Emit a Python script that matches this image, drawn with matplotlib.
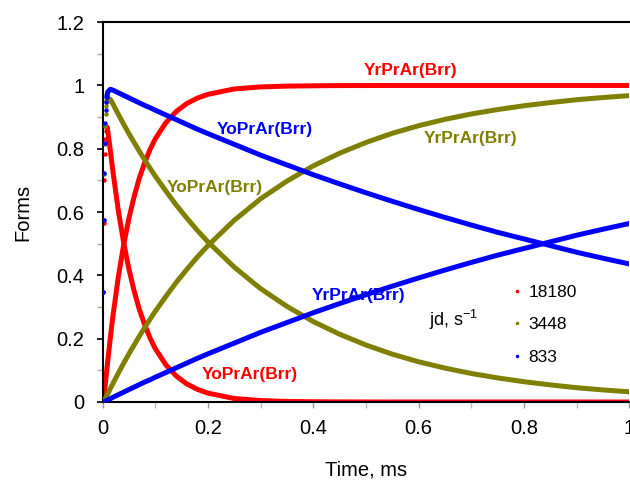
import matplotlib
matplotlib.use("Agg")
import matplotlib.pyplot as plt
from matplotlib.ticker import MultipleLocator

plt.rcParams["font.family"] = ["Liberation Sans", "DejaVu Sans"]
plt.rcParams["mathtext.fontset"] = "custom"
plt.rcParams["mathtext.rm"] = "Liberation Sans"
plt.rcParams["axes.unicode_minus"] = False

# time grid, ms
t_ms = [0, 0.001, 0.002, 0.003, 0.004, 0.005, 0.006, 0.007, 0.008, 0.009, 0.010,
        0.015, 0.02, 0.03, 0.04, 0.05, 0.06, 0.07, 0.08, 0.09, 0.10,
        0.12, 0.14, 0.16, 0.18, 0.20,
        0.25, 0.30, 0.35, 0.40, 0.45, 0.50, 0.55, 0.60, 0.65, 0.70, 0.75,
        0.80, 0.85, 0.90, 0.95, 1.00]

# jd = 18180 s-1
yo_red = [0, 0.346, 0.565, 0.701, 0.784, 0.832, 0.857, 0.868, 0.869, 0.865, 0.856,
          0.793, 0.726, 0.605, 0.505, 0.421, 0.351, 0.292, 0.244, 0.203, 0.169,
          0.118, 0.082, 0.057, 0.040, 0.028,
          0.011, 0.0045, 0.0017, 0.0007, 0.0003, 0.0001, 0, 0, 0, 0, 0,
          0, 0, 0, 0, 0]
yr_red = [0, 0.0035, 0.012, 0.024, 0.037, 0.052, 0.067, 0.083, 0.099, 0.114, 0.130,
          0.205, 0.274, 0.395, 0.495, 0.579, 0.649, 0.708, 0.756, 0.797, 0.831,
          0.882, 0.918, 0.943, 0.960, 0.972,
          0.989, 0.9955, 0.998, 0.999, 0.9997, 0.9999, 1, 1, 1, 1, 1,
          1, 1, 1, 1, 1]

# jd = 3448 s-1
yo_olive = [0, 0.349, 0.575, 0.720, 0.814, 0.873, 0.911, 0.934, 0.948, 0.956, 0.960,
            0.956, 0.941, 0.909, 0.878, 0.848, 0.820, 0.792, 0.765, 0.739, 0.714,
            0.667, 0.622, 0.581, 0.542, 0.506,
            0.426, 0.358, 0.302, 0.254, 0.214, 0.180, 0.151, 0.127, 0.107, 0.090, 0.076,
            0.064, 0.054, 0.045, 0.038, 0.032]
yr_olive = [0, 0.0005, 0.002, 0.0045, 0.007, 0.010, 0.013, 0.016, 0.020, 0.023, 0.026,
            0.043, 0.059, 0.091, 0.122, 0.152, 0.180, 0.208, 0.235, 0.261, 0.286,
            0.333, 0.378, 0.419, 0.458, 0.494,
            0.574, 0.642, 0.698, 0.746, 0.786, 0.820, 0.849, 0.873, 0.893, 0.910, 0.924,
            0.936, 0.946, 0.955, 0.962, 0.968]

# jd = 833 s-1
yo_blue = [0, 0.349, 0.576, 0.724, 0.819, 0.881, 0.921, 0.947, 0.963, 0.973, 0.980,
           0.988, 0.985, 0.977, 0.969, 0.961, 0.953, 0.945, 0.937, 0.930, 0.922,
           0.907, 0.892, 0.877, 0.862, 0.848,
           0.814, 0.780, 0.749, 0.718, 0.689, 0.661, 0.634, 0.608, 0.583, 0.559, 0.536,
           0.515, 0.494, 0.473, 0.454, 0.436]
yr_blue = [0, 0.0003, 0.0006, 0.001, 0.0018, 0.0025, 0.003, 0.004, 0.005, 0.006, 0.0064,
           0.0105, 0.015, 0.023, 0.031, 0.039, 0.047, 0.055, 0.063, 0.070, 0.078,
           0.093, 0.108, 0.123, 0.138, 0.152,
           0.186, 0.220, 0.251, 0.282, 0.311, 0.339, 0.366, 0.392, 0.417, 0.441, 0.464,
           0.485, 0.506, 0.527, 0.546, 0.564]

jd_labels = ["18180", "3448", "833"]
colors = ["#ff0000", "#808000", "#0000ff"]

N_DOTS = 10   # early points drawn as separate dots
LINE_FROM = 8

fig = plt.figure(figsize=(6.3, 4.82), dpi=100)
ax = fig.add_axes([0.1627, 0.166, 0.8365, 0.788])

series = [(yo_red, yr_red), (yo_olive, yr_olive), (yo_blue, yr_blue)]
order = [1, 0, 2]  # olive below, blue on top
handles = {}
for i in order:
    yo, yr = series[i]
    c = colors[i]
    ax.plot(t_ms, yr, color=c, lw=3.6, solid_capstyle="butt", zorder=2 + i)
    ax.plot(t_ms[LINE_FROM:], yo[LINE_FROM:], color=c, lw=3.6,
            solid_capstyle="round", zorder=2 + i)
    h, = ax.plot(t_ms[:N_DOTS], yo[:N_DOTS], ls="none", marker="o", ms=3.2,
                 mfc=c, mec=c, mew=0, zorder=2 + i, label=jd_labels[i])
    handles[i] = h

ax.set_xlim(0, 1)
ax.set_ylim(0, 1.2)
ax.xaxis.set_major_locator(MultipleLocator(0.2))
ax.xaxis.set_minor_locator(MultipleLocator(0.1))
ax.yaxis.set_major_locator(MultipleLocator(0.2))
ax.yaxis.set_minor_locator(MultipleLocator(0.1))
ax.xaxis.set_major_formatter(plt.FuncFormatter(lambda v, _: f"{v:g}"))
ax.yaxis.set_major_formatter(plt.FuncFormatter(lambda v, _: f"{v:g}"))

ax.tick_params(axis="both", which="both", direction="out", length=4, labelsize=14.5)
ax.tick_params(axis="y", which="major", color="black", width=1.2, pad=9)
ax.tick_params(axis="y", which="minor", color="#aaaaaa", width=1.0)
ax.tick_params(axis="x", which="major", color="#999999", width=1.0, pad=8)
ax.tick_params(axis="x", which="minor", color="#bbbbbb", width=1.0)

for s in ("top", "left", "bottom"):
    ax.spines[s].set_linewidth(1.5)
    ax.spines[s].set_color("black")
ax.spines["right"].set_visible(False)

ax.set_ylabel("Forms", fontsize=14.5)
ax.set_xlabel("Time, ms", fontsize=14.5)
ax.yaxis.set_label_coords(-0.134, 0.5)
ax.xaxis.set_label_coords(0.5, -0.155)

lab = dict(fontsize=12.5, fontweight="bold", ha="center", va="center", zorder=10)
ax.text(0.584, 1.048, "YrPrAr(Brr)", color=colors[0], **lab)
ax.text(0.279, 0.088, "YoPrAr(Brr)", color=colors[0], **lab)
ax.text(0.698, 0.834, "YrPrAr(Brr)", color=colors[1], **lab)
ax.text(0.2125, 0.679, "YoPrAr(Brr)", color=colors[1], **lab)
ax.text(0.308, 0.862, "YoPrAr(Brr)", color=colors[2], **lab)
ax.text(0.485, 0.335, "YrPrAr(Brr)", color=colors[2], **lab)

ax.text(0.62, 0.259, "jd, s$^{-1}$", fontsize=13, ha="left", va="center")

leg = ax.legend(handles=[handles[0], handles[1], handles[2]], loc="upper left",
                bbox_to_anchor=(0.765, 0.327), frameon=False, fontsize=12.5,
                handlelength=0.5, handletextpad=0.4, labelspacing=1.0,
                markerscale=0.8, borderaxespad=0)

fig.savefig("out.png", dpi=100)
